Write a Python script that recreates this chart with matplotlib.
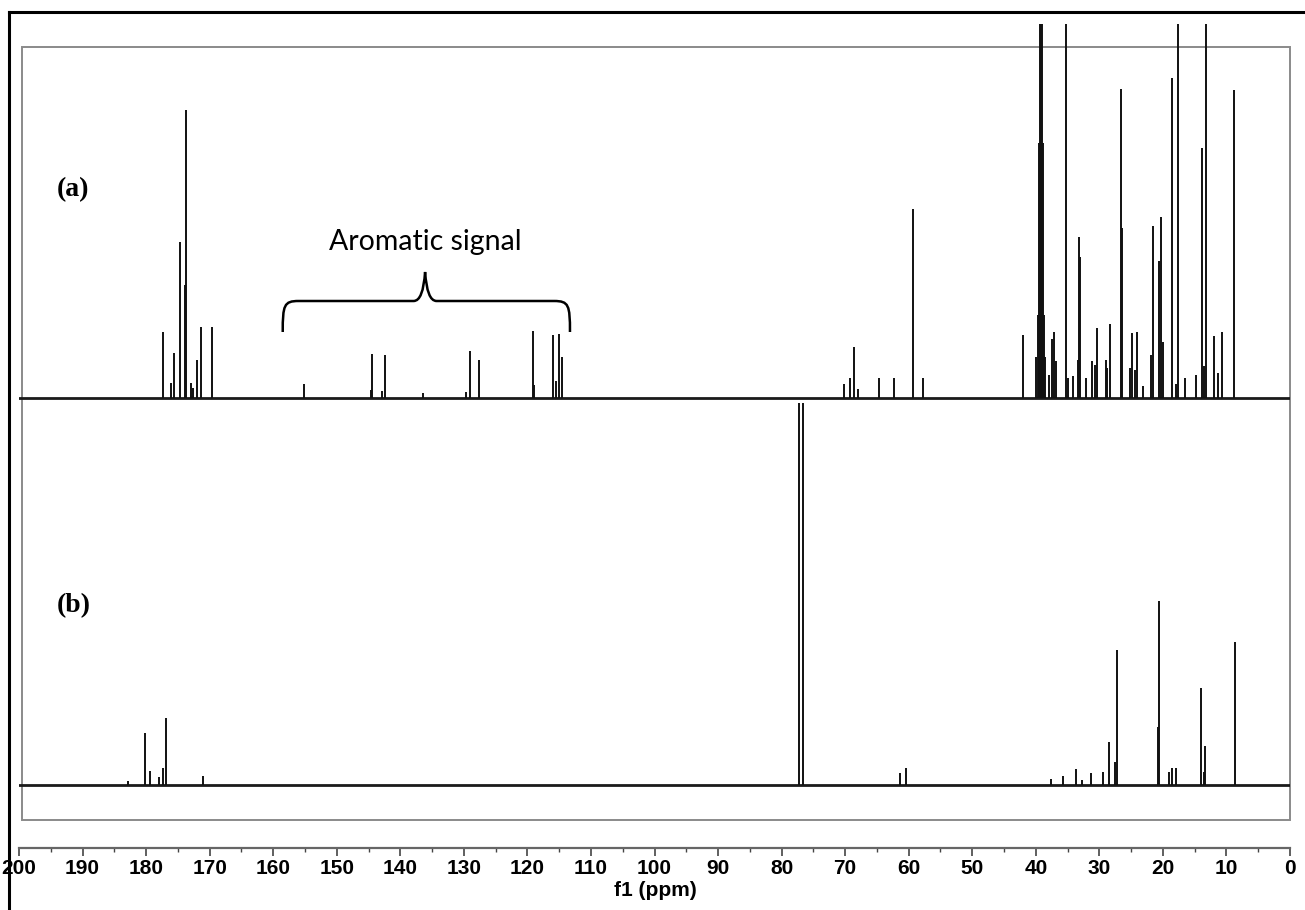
import numpy as np
import matplotlib
matplotlib.use("Agg")
import matplotlib.pyplot as plt
from matplotlib import font_manager
from matplotlib.patches import Rectangle, PathPatch
from matplotlib.path import Path
from matplotlib.lines import Line2D

# 13C NMR, trace (a): peak positions (ppm) and heights (a.u.)
a_ppm = [177.3, 176.1, 175.6, 174.6, 173.9, 173.8, 173.0, 172.6, 172.0, 171.4, 169.7,
         155.1, 144.6, 144.5, 142.9, 142.4, 136.5, 129.6, 129.1, 127.6,
         119.1, 118.9, 116.0, 115.5, 115.1, 114.5,
         70.2, 69.3, 68.6, 68.0, 64.6, 62.3, 59.4, 57.7, 42.0,
         39.9, 39.7, 39.5, 39.35, 39.2, 39.05, 38.9, 38.7, 38.5,
         38.0, 37.5, 37.1, 36.9, 35.3, 34.9, 34.2, 33.4, 33.2, 33.0, 32.1,
         31.1, 30.7, 30.4, 29.0, 28.8, 28.4, 26.6, 26.4, 25.2, 24.8, 24.4, 24.0, 23.2,
         21.9, 21.5, 20.6, 20.3, 20.0, 18.6, 17.9, 17.7, 16.5, 14.8,
         13.8, 13.6, 13.2, 11.9, 11.3, 10.7, 8.8]
a_int = [66, 15, 45, 156, 113, 288, 15, 10, 38, 71, 71,
         14, 8, 44, 7, 43, 5, 6, 47, 38,
         67, 13, 63, 17, 64, 41,
         14, 20, 51, 9, 20, 20, 189, 20, 63,
         41, 83, 255, 400, 400, 400, 255, 83, 41,
         23, 59, 66, 37, 400, 20, 22, 38, 161, 141, 20,
         37, 33, 70, 38, 30, 74, 309, 170, 30, 65, 28, 66, 12,
         43, 172, 137, 181, 56, 320, 14, 400, 20, 23,
         250, 32, 400, 62, 25, 66, 308]

# trace (b)
b_ppm = [182.9, 180.1, 179.4, 177.9, 177.3, 176.9, 171.1,
         77.3, 76.6, 61.4, 60.4,
         37.6, 35.7, 33.6, 32.7, 31.3, 29.5, 28.5, 27.6, 27.2,
         20.8, 20.6, 19.0, 18.5, 17.9, 14.0, 13.6, 13.4, 8.6]
b_int = [4, 52, 14, 8, 17, 67, 9,
         382, 382, 12, 17,
         6, 9, 16, 5, 12, 13, 43, 23, 135,
         58, 184, 13, 17, 17, 97, 13, 39, 143]

a_base = 450
b_base = 63

W, H = 1305, 910
fig = plt.figure(figsize=(W / 100, H / 100), dpi=100)

names = {f.name for f in font_manager.fontManager.ttflist}
if "Liberation Sans Narrow" in names:
    tick_font, tick_size = "Liberation Sans Narrow", 17
else:
    tick_font, tick_size = "Liberation Sans", 15

def fx(px):
    return px / W

def fy(py):
    return 1 - py / H

# axes: ppm 200 -> 0 between x=19 and x=1290 px, bottom spine at y=848 px
ax = fig.add_axes([fx(19), fy(848), fx(1290 - 19), (848 - 24) / H])
ax.patch.set_visible(False)
ax.set_xlim(200, 0)
ax.set_ylim(0, 824)

for base, pp, hh in [(a_base, a_ppm, a_int), (b_base, b_ppm, b_int)]:
    ax.plot([200, 0], [base, base], color="#1a1a1a", lw=2.0)
    ax.vlines(pp, base, [base + h for h in hh], color="#111111", lw=1.4)

for s in ["top", "left", "right"]:
    ax.spines[s].set_visible(False)
ax.spines["bottom"].set_color("#666666")
ax.spines["bottom"].set_linewidth(1.6)
ax.set_yticks([])
ax.set_xticks(np.arange(0, 201, 10))
ax.set_xticks(np.arange(0, 201, 5), minor=True)
ax.tick_params(axis="x", which="major", direction="out", length=6, width=1.2,
               color="#444444", pad=2)
ax.tick_params(axis="x", which="minor", direction="out", length=3, width=1.0,
               color="#444444")
for lab in ax.get_xticklabels():
    lab.set_fontfamily([tick_font, "DejaVu Sans"])
    lab.set_fontweight("bold")
    lab.set_fontsize(tick_size)

fig.text(fx(655), fy(891), "f1 (ppm)", ha="center", va="center",
         fontsize=tick_size, fontweight="bold", family=[tick_font, "DejaVu Sans"])

# brace over the aromatic region
xl, xm, xr = 158.5, 136.1, 113.3
yb, yh, yt = 516, 547, 576
verts = [(xl, yb), (xl, yh - 4), (xl - 0.2, yh), (xl - 2.5, yh),
         (xm + 1.8, yh), (xm + 0.3, yh), (xm, yt),
         (xm - 0.3, yh), (xm - 1.8, yh),
         (xr + 2.5, yh), (xr + 0.2, yh), (xr, yh - 4), (xr, yb)]
codes = [Path.MOVETO, Path.CURVE4, Path.CURVE4, Path.CURVE4,
         Path.LINETO, Path.CURVE3, Path.CURVE3,
         Path.CURVE3, Path.CURVE3,
         Path.LINETO, Path.CURVE4, Path.CURVE4, Path.CURVE4]
ax.add_patch(PathPatch(Path(verts, codes), facecolor="none", edgecolor="black", lw=1.8))
ax.text(xm, 606, "Aromatic signal", ha="center", va="center", fontsize=20.5,
        family=["Lato", "DejaVu Sans"])

fig.text(fx(73), fy(190), "(a)", ha="center", va="center", fontsize=20,
         fontweight="bold", family=["Liberation Serif", "DejaVu Serif"])
fig.text(fx(74), fy(606), "(b)", ha="center", va="center", fontsize=20,
         fontweight="bold", family=["Liberation Serif", "DejaVu Serif"])

# grey inner frame and black outer frame
fig.add_artist(Rectangle((fx(22), fy(820)), fx(1290 - 22), (820 - 47) / H, fill=False,
                         edgecolor="#8a8a8a", lw=1.4, transform=fig.transFigure, zorder=-1))
fig.add_artist(Line2D([fx(9), fx(9)], [fy(12), 0], color="black", lw=2.2,
                      transform=fig.transFigure, zorder=10))
fig.add_artist(Line2D([fx(9), 1], [fy(12), fy(12)], color="black", lw=2.2,
                      transform=fig.transFigure, zorder=10))

fig.savefig("out.png", dpi=100)
